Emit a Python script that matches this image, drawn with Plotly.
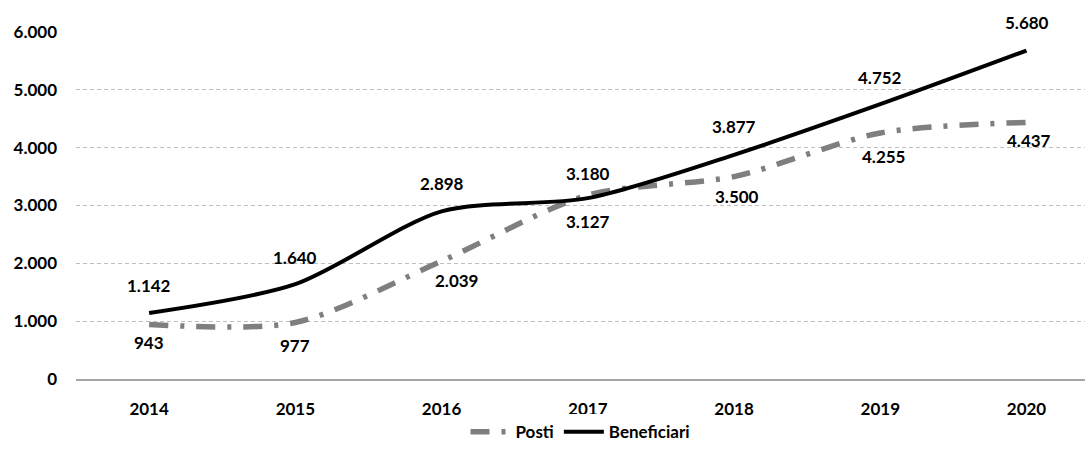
import plotly.graph_objects as go

years = ["2014", "2015", "2016", "2017", "2018", "2019", "2020"]
posti = [943, 977, 2039, 3180, 3500, 4255, 4437]
beneficiari = [1142, 1640, 2898, 3127, 3877, 4752, 5680]
y_ticks = [0, 1000, 2000, 3000, 4000, 5000, 6000]

FONT = "Lato"
FS = 17

fig = go.Figure()
fig.add_trace(go.Scatter(
    x=years, y=posti, name="Posti", mode="lines",
    line=dict(color="#7f7f7f", width=5.5, shape="spline", smoothing=0.8,
              dash="19px,12px,4px,12px"),
))
fig.add_trace(go.Scatter(
    x=years, y=beneficiari, name="Beneficiari", mode="lines",
    line=dict(color="#000000", width=4, shape="spline", smoothing=0.8),
))

def fmt(v):
    return f"{v:,}".replace(",", ".")

# label offsets (pixels): Beneficiari above, Posti below, except 2017 swapped
ben_shift = [27, 27, 28, -23, 28, 27, 28]
pos_shift = [-18, -23, -19, 22, -20, -24, -18]
pos_xshift = [0, 0, 15, 0, 3, 3, 2]

annotations = []
for i, yr in enumerate(years):
    annotations.append(dict(x=i, y=beneficiari[i], xref="x", yref="y",
                            text=fmt(beneficiari[i]),
                            showarrow=False, yshift=ben_shift[i],
                            font=dict(family=FONT, size=FS, color="#000", weight="bold")))
    annotations.append(dict(x=i, y=posti[i], xref="x", yref="y",
                            text=fmt(posti[i]),
                            showarrow=False, yshift=pos_shift[i], xshift=pos_xshift[i],
                            font=dict(family=FONT, size=FS, color="#000", weight="bold")))

fig.update_layout(
    width=1085, height=456,
    margin=dict(l=76, r=0, t=32, b=77),
    paper_bgcolor="white", plot_bgcolor="white",
    separators=",.",
    font=dict(family=FONT, size=FS, color="#000", weight="bold"),
    showlegend=True,
    legend=dict(orientation="h", x=0.5, xanchor="center", y=-0.153, yanchor="middle",
                itemwidth=40,
                font=dict(family=FONT, size=FS, color="#000", weight="bold")),
    annotations=annotations,
)
fig.update_xaxes(
    type="category", range=[-0.5, 6.4], showgrid=False,
    showline=True, linecolor="#a6a6a6", linewidth=2,
    ticks="", ticklabelstandoff=14,
    tickfont=dict(family=FONT, size=FS, color="#000", weight="bold"),
)
fig.update_yaxes(
    range=[0, 6000], tickvals=y_ticks, tickformat=",d",
    showgrid=True, gridcolor="#bfbfbf", gridwidth=1, griddash="4px,3px",
    zeroline=False, showline=False, ticks="", ticklabelstandoff=18,
    tickfont=dict(family=FONT, size=FS, color="#000", weight="bold"),
)

fig.write_html("out.html", config={"displayModeBar": False},
               post_script="document.body.style.margin='0';")
